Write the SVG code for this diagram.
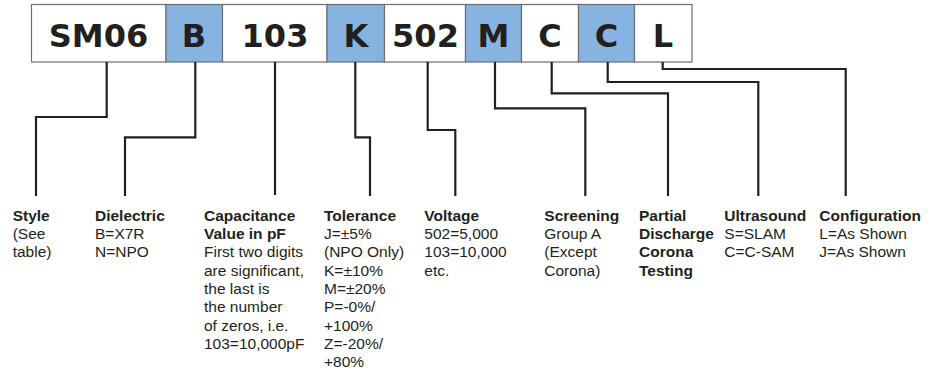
<svg xmlns="http://www.w3.org/2000/svg" width="940" height="377" viewBox="0 0 940 377">
<style>
.box{stroke:#6d6e71;stroke-width:1.2}
.w{fill:#ffffff}
.b{fill:#86b3e0}
.code{font-family:"DejaVu Sans",Verdana,sans-serif;font-weight:bold;font-size:32px;fill:#231f20;text-anchor:middle}
.conn{fill:none;stroke:#231f20;stroke-width:2.2}
.lbl{font-family:"Liberation Sans",Arial,sans-serif;font-size:15.5px;fill:#231f20}
.h{font-weight:bold}
</style>
<rect width="940" height="377" fill="#ffffff"/>
<g id="code-boxes">
<g id="box-sm06"><rect class="box w" x="31.5" y="4.5" width="134.5" height="57.5"/><text class="code" x="98.5" y="46.5">SM06</text></g>
<g id="box-b"><rect class="box b" x="166" y="4.5" width="56.5" height="57.5"/><text class="code" x="194" y="46.5">B</text></g>
<g id="box-103"><rect class="box w" x="222.5" y="4.5" width="104.5" height="57.5"/><text class="code" x="275" y="46.5">103</text></g>
<g id="box-k"><rect class="box b" x="327" y="4.5" width="57.5" height="57.5"/><text class="code" x="356" y="46.5">K</text></g>
<g id="box-502"><rect class="box w" x="384.5" y="4.5" width="81" height="57.5"/><text class="code" x="425.5" y="46.5">502</text></g>
<g id="box-m"><rect class="box b" x="465.5" y="4.5" width="56" height="57.5"/><text class="code" x="493.5" y="46.5">M</text></g>
<g id="box-c1"><rect class="box w" x="521.5" y="4.5" width="57" height="57.5"/><text class="code" x="550" y="46.5">C</text></g>
<g id="box-c2"><rect class="box b" x="578.5" y="4.5" width="56" height="57.5"/><text class="code" x="606.5" y="46.5">C</text></g>
<g id="box-l"><rect class="box w" x="634.5" y="4.5" width="57.5" height="57.5"/><text class="code" x="663" y="46.5">L</text></g>
</g>
<g id="connectors">
<polyline class="conn" points="106.7,62 106.7,117 36,117 36,196"/>
<polyline class="conn" points="195.3,62 195.3,137.3 125,137.3 125,196"/>
<polyline class="conn" points="275,62 275,195"/>
<polyline class="conn" points="355.3,62 355.3,137.3 370,137.3 370,196"/>
<polyline class="conn" points="427.7,62 427.7,130 455.3,130 455.3,196"/>
<polyline class="conn" points="495,62 495,108.3 585.3,108.3 585.3,196"/>
<polyline class="conn" points="551.7,62 551.7,93.3 668,93.3 668,196"/>
<polyline class="conn" points="607.7,62 607.7,82 758.3,82 758.3,196"/>
<polyline class="conn" points="662.7,62 662.7,69 845.7,69 845.7,196"/>
</g>
<g id="label-style"><text class="lbl"><tspan class="h" x="12.7" y="220.7">Style</tspan><tspan x="12.7" y="239">(See</tspan><tspan x="12.7" y="257.3">table)</tspan></text></g>
<g id="label-dielectric"><text class="lbl"><tspan class="h" x="95" y="220.7">Dielectric</tspan><tspan x="95" y="239">B=X7R</tspan><tspan x="95" y="257.3">N=NPO</tspan></text></g>
<g id="label-capacitance"><text class="lbl"><tspan class="h" x="204" y="220.7">Capacitance</tspan><tspan class="h" x="204" y="239">Value in pF</tspan><tspan x="204" y="257.3">First two digits</tspan><tspan x="204" y="275.7">are significant,</tspan><tspan x="204" y="294">the last is</tspan><tspan x="204" y="312.3">the number</tspan><tspan x="204" y="330.7">of zeros, i.e.</tspan><tspan x="204" y="349">103=10,000pF</tspan></text></g>
<g id="label-tolerance"><text class="lbl"><tspan class="h" x="324" y="220.7">Tolerance</tspan><tspan x="324" y="239">J=±5%</tspan><tspan x="324" y="257.3">(NPO Only)</tspan><tspan x="324" y="275.7">K=±10%</tspan><tspan x="324" y="294">M=±20%</tspan><tspan x="324" y="312.3">P=-0%/</tspan><tspan x="324" y="330.7">+100%</tspan><tspan x="324" y="349">Z=-20%/</tspan><tspan x="324" y="367.3">+80%</tspan></text></g>
<g id="label-voltage"><text class="lbl"><tspan class="h" x="424.3" y="220.7">Voltage</tspan><tspan x="424.3" y="239">502=5,000</tspan><tspan x="424.3" y="257.3">103=10,000</tspan><tspan x="424.3" y="275.7">etc.</tspan></text></g>
<g id="label-screening"><text class="lbl"><tspan class="h" x="544.3" y="220.7">Screening</tspan><tspan x="544.3" y="239">Group A</tspan><tspan x="544.3" y="257.3">(Except</tspan><tspan x="544.3" y="275.7">Corona)</tspan></text></g>
<g id="label-partial"><text class="lbl h"><tspan x="639" y="220.7">Partial</tspan><tspan x="639" y="239">Discharge</tspan><tspan x="639" y="257.3">Corona</tspan><tspan x="639" y="275.7">Testing</tspan></text></g>
<g id="label-ultrasound"><text class="lbl"><tspan class="h" x="724.3" y="220.7">Ultrasound</tspan><tspan x="724.3" y="239">S=SLAM</tspan><tspan x="724.3" y="257.3">C=C-SAM</tspan></text></g>
<g id="label-configuration"><text class="lbl"><tspan class="h" x="819.3" y="220.7">Configuration</tspan><tspan x="819.3" y="239">L=As Shown</tspan><tspan x="819.3" y="257.3">J=As Shown</tspan></text></g>
</svg>
